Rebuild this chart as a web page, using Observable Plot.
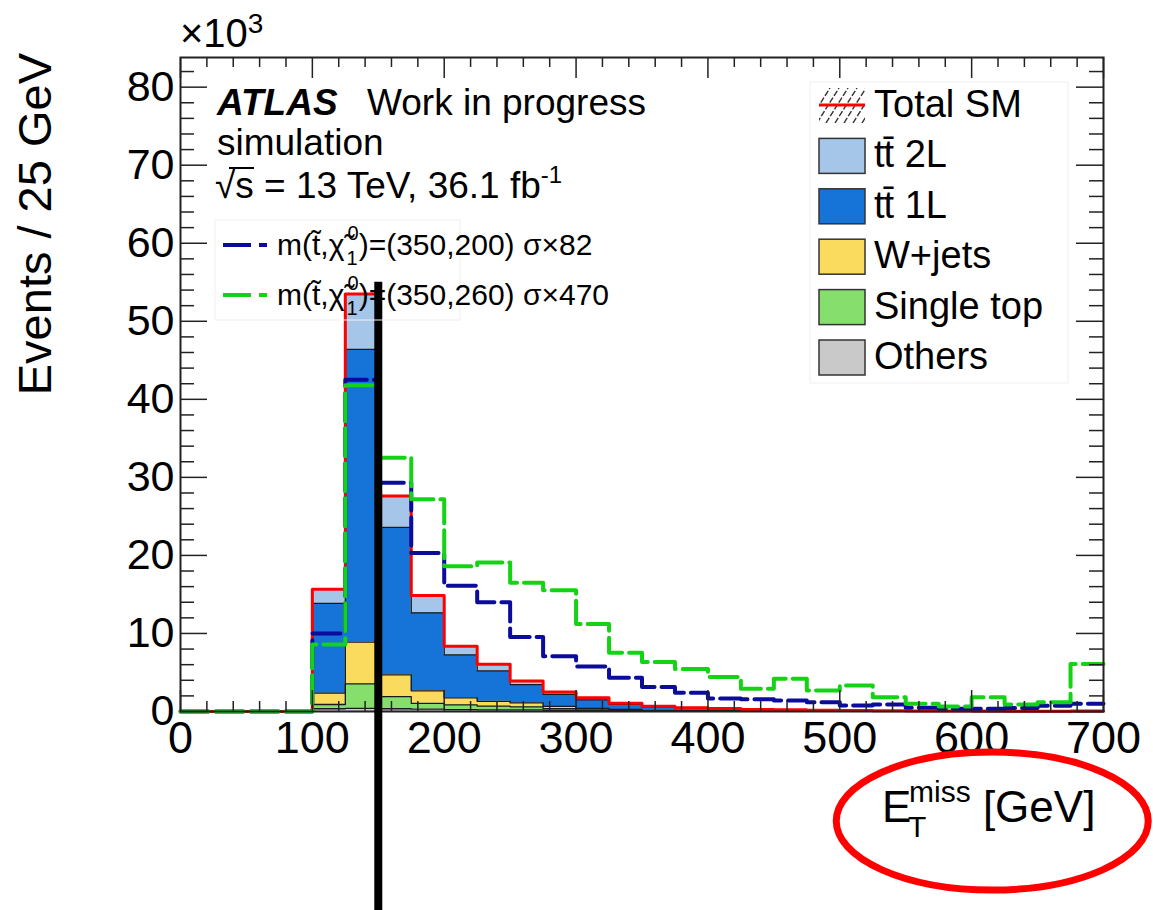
<!DOCTYPE html>
<html>
<head>
<meta charset="utf-8">
<script src="https://cdn.jsdelivr.net/npm/d3@7"></script>
<script src="https://cdn.jsdelivr.net/npm/@observablehq/plot@0.6"></script>
<style>
  html, body { margin: 0; padding: 0; background: #fff; }
</style>
</head>
<body>
<div id="chart"></div>
<script>
// E_T^miss histogram: lower bin edges in GeV, 25 GeV wide bins
const binLow = [0,25,50,75,100,125,150,175,200,225,250,275,300,325,350,375,400,425,450,475,500,525,550,575,600,625,650,675];
const binWidth = 25;

// Background yields per bin (thousands of events), stacked bottom to top
const others    = [0,0,0,0,0.35,0.40,0.35,0.30,0.25,0.20,0.20,0.15,0.10,0.07,0.05,0.03,0.03,0.02,0.02,0.01,0.01,0.01,0.01,0.01,0,0,0,0];
const singleTop = [0,0,0,0,0.55,3.15,1.55,0.75,0.60,0.50,0.40,0.20,0.10,0.08,0.05,0.04,0.03,0.02,0.02,0.01,0.01,0.01,0.01,0,0,0,0,0];
const wJets     = [0,0,0,0,1.45,5.35,2.80,1.60,0.90,0.60,0.50,0.30,0.20,0.12,0.08,0.05,0.04,0.03,0.02,0.02,0.01,0.01,0.01,0.01,0.01,0.01,0,0.01];
const ttbar1L   = [0,0,0,0,11.5,37.5,18.9,10.0,5.5,3.9,2.35,1.55,1.10,0.65,0.40,0.28,0.22,0.16,0.12,0.09,0.07,0.05,0.04,0.03,0.03,0.02,0.02,0.03];
const ttbar2L   = [0,0,0,0,1.8,7.1,4.0,2.2,1.1,0.85,0.45,0.30,0.25,0.15,0.10,0.07,0.05,0.04,0.03,0.02,0.02,0.01,0.01,0.01,0.01,0.01,0.01,0.01];

// Scaled signal yields per bin (thousands of events)
const sig350_200 = [0,0,0,0,10.0,42.5,29.3,20.3,16.1,14.0,9.55,7.07,5.78,4.33,3.13,2.40,1.67,1.58,1.41,1.20,0.77,0.90,0.47,0.35,0.35,0.45,0.73,0.98];
const sig350_260 = [0,0,0,0,8.6,41.8,32.5,27.2,18.6,19.1,16.5,15.55,11.2,7.54,6.34,5.44,4.41,2.90,4.20,2.70,3.34,1.84,0.98,0.64,1.84,0.90,1.20,6.10];

// Axis ticks
const xTicks = [0,100,200,300,400,500,600,700];
const yTicks = [0,10,20,30,40,50,60,70,80];
const xMinor = d3.range(20, 700, 20).filter(v => v % 100 !== 0);
const yMinor = d3.range(2, 84, 2).filter(v => v % 10 !== 0);

// Analysis cut and highlight annotations
const cutX = [150];
const cutSpan = [-25.6, 55];
const ellipseCenter = [616, -14.1];

// Process names, colours, and legend labels
const procNames  = ["Others", "Single top", "W+jets", "tt1L", "tt2L"];
const procColors = ["#c9c9c9", "#86df6c", "#fbdb5e", "#1673d8", "#a6c6e9"];
const procSeries = [others, singleTop, wJets, ttbar1L, ttbar2L];
const sigColors  = ["#0b0b9c", "#14d214"];

const FONT = "'Liberation Sans', Arial, Helvetica, sans-serif";
const W = 1153, H = 910;
const mL = 180, mR = 50, mT = 57, mB = 199;
const fw = W - mL - mR, fh = H - mT - mB;

// Stacked step polygons: two points per bin (low and high edge)
const stackPts = [];
const cumul = binLow.map(() => 0);
procNames.forEach((proc, k) => {
  binLow.forEach((lo, i) => {
    const lower = cumul[i], upper = cumul[i] + procSeries[k][i];
    stackPts.push({proc, x: lo, lower, upper}, {proc, x: lo + binWidth, lower, upper});
    cumul[i] = upper;
  });
});
const totalSM = cumul.slice();

const steps = vals => binLow.flatMap((lo, i) => [{x: lo, y: vals[i]}, {x: lo + binWidth, y: vals[i]}]);

const svg = Plot.plot({
  width: W,
  height: H,
  marginLeft: mL, marginRight: mR, marginTop: mT, marginBottom: mB,
  x: {domain: [0, 700]},
  y: {domain: [0, 83.8]},
  style: {fontFamily: FONT, background: "white", color: "black", overflow: "visible"},
  marks: [
    ...procNames.map((p, k) =>
      Plot.area(stackPts.filter(d => d.proc === p), {x1: "x", y1: "lower", y2: "upper", fill: procColors[k]})
    ),
    Plot.line(stackPts, {x: "x", y: "upper", z: "proc", stroke: "#1a1a1a", strokeWidth: 1.3}),
    Plot.line(steps(totalSM), {x: "x", y: "y", stroke: "#ff0000", strokeWidth: 3}),
    Plot.line(steps(sig350_200), {x: "x", y: "y", stroke: sigColors[0], strokeWidth: 4, strokeDasharray: "28,7"}),
    Plot.line(steps(sig350_260), {x: "x", y: "y", stroke: sigColors[1], strokeWidth: 4, strokeDasharray: "28,7"}),
    Plot.frame({stroke: "#222", strokeWidth: 2}),
    // ticks on all four sides, pointing inward
    Plot.tickX(xTicks, {x: d => d, insetTop: fh - 21, stroke: "#222", strokeWidth: 1.5}),
    Plot.tickX(xMinor, {x: d => d, insetTop: fh - 10, stroke: "#222", strokeWidth: 1.5}),
    Plot.tickX(xTicks, {x: d => d, insetBottom: fh - 21, stroke: "#222", strokeWidth: 1.5}),
    Plot.tickX(xMinor, {x: d => d, insetBottom: fh - 10, stroke: "#222", strokeWidth: 1.5}),
    Plot.tickY(yTicks, {y: d => d, insetRight: fw - 27, stroke: "#222", strokeWidth: 1.5}),
    Plot.tickY(yMinor, {y: d => d, insetRight: fw - 14, stroke: "#222", strokeWidth: 1.5}),
    Plot.tickY(yTicks, {y: d => d, insetLeft: fw - 27, stroke: "#222", strokeWidth: 1.5}),
    Plot.tickY(yMinor, {y: d => d, insetLeft: fw - 14, stroke: "#222", strokeWidth: 1.5}),
    Plot.axisX({ticks: xTicks, tickSize: 0, tickPadding: 10, fontSize: 45, label: null, tickFormat: d => String(d)}),
    Plot.axisY({ticks: yTicks, tickSize: 0, tickPadding: 6, fontSize: 43, label: null, tickFormat: d => String(d)}),
    Plot.ruleX(cutX, {x: d => d, y1: cutSpan[0], y2: cutSpan[1], stroke: "black", strokeWidth: 8, clip: false})
  ]
});

document.getElementById("chart").appendChild(svg);

// Text, legends and highlight drawn on top of the plot
const xs = svg.scale("x"), ys = svg.scale("y");
const g = d3.select(svg).append("g")
  .attr("font-family", FONT)
  .attr("fill", "black")
  .attr("text-anchor", "start");

// multiplier above the y axis
const mult = g.append("text").attr("x", 180).attr("y", 47).attr("font-size", 40);
mult.append("tspan").text("\u00d710");
mult.append("tspan").attr("font-size", 28).attr("dy", -14).text("3");

// y-axis title
g.append("text")
  .attr("transform", "translate(51,53) rotate(-90)")
  .attr("text-anchor", "end")
  .attr("font-size", 47)
  .text("Events / 25 GeV");

// x-axis title
const xt = g.append("text").attr("x", 882).attr("y", 822).attr("font-size", 44);
xt.append("tspan").text("E");
xt.append("tspan").attr("x", 908).attr("dy", 15).attr("font-size", 30).text("T");
xt.append("tspan").attr("x", 909).attr("dy", -35).attr("font-size", 30).text("miss");
xt.append("tspan").attr("dy", 20).attr("font-size", 44).text(" [GeV]");

// highlight ellipse around the x-axis title
g.append("ellipse")
  .attr("cx", xs.apply(ellipseCenter[0])).attr("cy", ys.apply(ellipseCenter[1]))
  .attr("rx", 156).attr("ry", 69)
  .attr("fill", "none").attr("stroke", "#ff0000").attr("stroke-width", 7);

// experiment label
const atlas = g.append("text").attr("x", 217).attr("y", 115).attr("font-size", 37);
atlas.append("tspan").attr("font-weight", "bold").attr("font-style", "italic").text("ATLAS");
atlas.append("tspan").attr("x", 367).text("Work in progress");
g.append("text").attr("x", 217).attr("y", 155).attr("font-size", 37).text("simulation");
const lumi = g.append("text").attr("x", 215).attr("y", 198).attr("font-size", 37);
lumi.append("tspan").text("\u221as = 13 TeV, 36.1 fb");
lumi.append("tspan").attr("font-size", 24).attr("dy", -15).text("-1");
g.append("line").attr("x1", 229).attr("x2", 254).attr("y1", 168).attr("y2", 168)
  .attr("stroke", "black").attr("stroke-width", 2);

// signal legend
g.append("rect").attr("x", 215).attr("y", 220).attr("width", 245).attr("height", 100)
  .attr("fill", "none").attr("stroke", "#efefef");
const sigLabels = ["(350,200) \u03c3\u00d782", "(350,260) \u03c3\u00d7470"];
sigLabels.forEach((lab, k) => {
  const cy = 245 + 50 * k;
  g.append("line").attr("x1", 223).attr("x2", 267).attr("y1", cy).attr("y2", cy)
    .attr("stroke", sigColors[k]).attr("stroke-width", 4).attr("stroke-dasharray", "28,8");
  const t = g.append("text").attr("x", 277).attr("y", cy + 10).attr("font-size", 30);
  t.append("tspan").text("m(t\u0303,\u03c7\u0303");
  t.append("tspan").attr("font-size", 20).attr("dx", 3).attr("dy", -15).text("0");
  t.append("tspan").attr("font-size", 20).attr("dx", -12).attr("dy", 25).text("1");
  t.append("tspan").attr("font-size", 30).attr("dx", 1).attr("dy", -10).text(")=" + lab);
});

// background legend
g.append("rect").attr("x", 810).attr("y", 82).attr("width", 258).attr("height", 301)
  .attr("fill", "none").attr("stroke", "#efefef");
const legendRows = [
  {label: "t t\u0304 2L", color: procColors[4]},
  {label: "t t\u0304 1L", color: procColors[3]},
  {label: "W+jets", color: procColors[2]},
  {label: "Single top", color: procColors[1]},
  {label: "Others", color: procColors[0]}
];
legendRows.unshift({label: "Total SM", total: true});
const clip = d3.select(svg).append("defs").append("clipPath").attr("id", "hatch-clip");
clip.append("rect").attr("x", 819).attr("y", 88).attr("width", 46).attr("height", 35);
legendRows.forEach((row, k) => {
  const cy = 105 + 50.4 * k;
  if (row.total) {
    const hatch = g.append("g").attr("clip-path", "url(#hatch-clip)");
    for (let i = 0; i < 7; i++) {
      const x0 = 808 + i * 9;
      hatch.append("line").attr("x1", x0).attr("y1", 123).attr("x2", x0 + 22).attr("y2", 88)
        .attr("stroke", "#333").attr("stroke-width", 1.4).attr("stroke-dasharray", "6,2");
    }
    g.append("line").attr("x1", 819).attr("x2", 865).attr("y1", cy).attr("y2", cy)
      .attr("stroke", "#ff0000").attr("stroke-width", 3);
  } else {
    g.append("rect").attr("x", 819).attr("y", cy - 17).attr("width", 46).attr("height", 35)
      .attr("fill", row.color).attr("stroke", "#333").attr("stroke-width", 1.5);
  }
  const t = g.append("text").attr("x", 874).attr("y", cy + 12).attr("font-size", 38);
  if (row.label.startsWith("t t")) {
    t.append("tspan").text("t");
    t.append("tspan").attr("dx", -1).text(row.label.slice(2));
  } else {
    t.text(row.label);
  }
});
</script>
</body>
</html>
